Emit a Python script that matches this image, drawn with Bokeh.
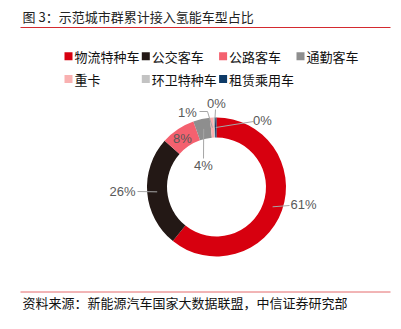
import math
from bokeh.plotting import figure
from bokeh.models import Range1d, ColumnDataSource
from bokeh.core.properties import value
from bokeh.embed import file_html
from bokeh.resources import INLINE

# ---- data ----
categories = ["物流特种车", "公交客车", "公路客车", "通勤客车", "重卡", "环卫特种车", "租赁乘用车"]
shares = [60.8, 25.8, 8.0, 3.9, 0.8, 0.3, 0.4]
colors = ["#D7000F", "#231815", "#F4616F", "#8E8E8E", "#F9B1B1", "#C3C3C3", "#0D3A67"]
pct_labels = [f"{round(v)}%" for v in shares]
title_text = "图 3：示范城市群累计接入氢能车型占比"
source_text = "资料来源：新能源汽车国家大数据联盟，中信证券研究部"

# ---- layout (pixel, y measured from top) ----
W, H = 401, 329
def Y(v):
    return H - v

CX, CY = 216, 186.5
R_IN, R_OUT = 49.5, 69.5
R_MID = (R_IN + R_OUT) / 2

label_pos = [(303, 204), (122, 191), (182, 138), (203, 165), (187, 112), (216, 103), (262, 120)]
# leader end (at the label side); None = no leader
leader_end = [(289, 205), (137, 191), None, (203, 158), [(199, 111), (207, 111)], (215, 109), (253, 121)]

CJK = value("Noto Sans CJK SC")
LAT = value("Liberation Sans")

p = figure(width=W, height=H, x_range=Range1d(0, W), y_range=Range1d(0, H),
           output_backend="svg", toolbar_location=None, min_border=0)
p.axis.visible = False
p.grid.visible = False
p.outline_line_color = None
p.background_fill_color = "white"
p.border_fill_color = "white"

# ---- donut ----
total = sum(shares)
starts, ends, mids = [], [], []
cum = 0.0
for v in shares:
    a0 = math.pi / 2 - 2 * math.pi * cum / total
    cum += v
    a1 = math.pi / 2 - 2 * math.pi * cum / total
    starts.append(a0)
    ends.append(a1)
    mids.append((a0 + a1) / 2)

src = ColumnDataSource(dict(x=[CX] * len(shares), y=[Y(CY)] * len(shares),
                            start=starts, end=ends, color=colors))
p.annular_wedge(x="x", y="y", inner_radius=R_IN, outer_radius=R_OUT,
                inner_radius_units="screen", outer_radius_units="screen",
                start_angle="start", end_angle="end", direction="clock",
                fill_color="color", line_color=None, source=src)

# ---- leader lines ----
xs, ys = [], []
for m, end in zip(mids, leader_end):
    if end is None:
        continue
    ax = CX + R_MID * math.cos(m)
    ay = Y(CY) + R_MID * math.sin(m)
    pts = end if isinstance(end, list) else [end]
    lx = [pt[0] for pt in pts] + [ax]
    ly = [Y(pt[1]) for pt in pts] + [ay]
    xs.append(lx)
    ys.append(ly)
p.multi_line(xs=xs, ys=ys, line_color="#A6A6A6", line_width=1)

# ---- percentage labels ----
p.text(x=[q[0] for q in label_pos], y=[Y(q[1]) for q in label_pos], text=pct_labels,
       text_font=LAT, text_font_size="13px", text_color="#595959",
       text_align="center", text_baseline="middle")

# ---- legend ----
col_x = [68, 145.3, 222.6, 300]
row_y = [55.8, 78.5]
lx = [col_x[i % 4] for i in range(len(categories))]
ly = [row_y[i // 4] for i in range(len(categories))]
p.rect(x=lx, y=[Y(v) for v in ly], width=8, height=8, width_units="screen",
       height_units="screen", fill_color=colors, line_color=None)
p.text(x=[v + 6 for v in lx], y=[Y(v) for v in ly], text=categories,
       text_font=CJK, text_font_size="13px", text_color="#111111",
       text_align="left", text_baseline="middle")

# ---- title, rules, source ----
p.text(x=[22], y=[Y(16)], text=[title_text], text_font=CJK, text_font_size="13px",
       text_color="#222222", text_align="left", text_baseline="middle")
p.segment(x0=[20], y0=[Y(27)], x1=[390], y1=[Y(27)], line_color="#D42A2F", line_width=1)
p.segment(x0=[20], y0=[Y(291.5)], x1=[390], y1=[Y(291.5)], line_color="#E46A6C", line_width=1)
p.text(x=[22], y=[Y(302)], text=[source_text], text_font=CJK, text_font_size="13px",
       text_color="#111111", text_align="left", text_baseline="middle")

open("out.html", "w").write(file_html(p, INLINE))
